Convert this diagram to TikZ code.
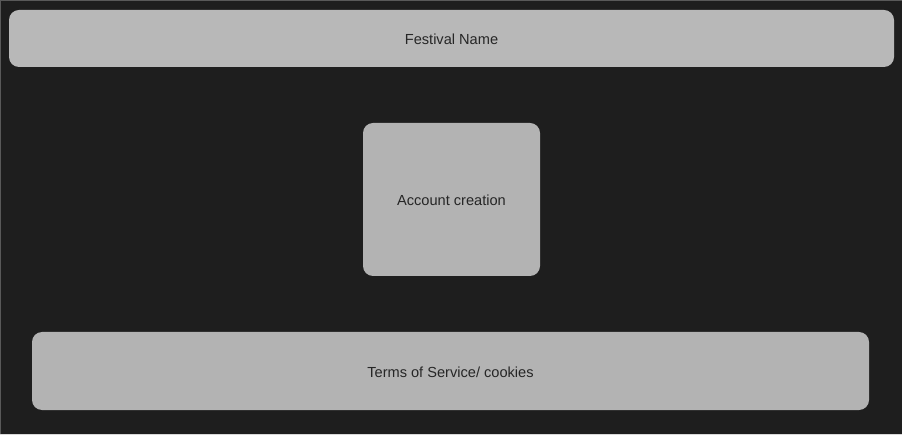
\documentclass[tikz,border=0pt]{standalone}
\usepackage{fontspec}
\setmainfont{Liberation Sans}
\definecolor{bg}{HTML}{1E1E1E}
\definecolor{boxa}{HTML}{B8B8B8}
\definecolor{boxb}{HTML}{B3B3B3}
\definecolor{txt}{HTML}{262626}
\tikzset{
  card/.style={fill=#1, draw=none, rounded corners=10pt},
  lbl/.style={text=txt, font=\fontsize{14.6}{17}\selectfont, inner sep=0pt}
}
\begin{document}
\begin{tikzpicture}[x=1pt,y=-1pt]
\useasboundingbox (0,0) rectangle (902,435);
\fill[bg] (0,0) rectangle (902,435);
\draw[color=black!65!white, line width=1pt] (0,0.5) -- (902,0.5);
\draw[color=black!65!white, line width=1pt] (0.5,0) -- (0.5,435);
\draw[color=black!15!white, line width=1pt] (0,434.5) -- (902,434.5);
\path[card=boxa] (9,10) rectangle (894,67);
\path[card=boxb] (363,123) rectangle (540,276);
\path[card=boxb] (32,332) rectangle (869,410);
\node[lbl] (festival) at (451.5,39) {Festival Name};
\node[lbl] (account) at (451.5,200) {Account creation};
\node[lbl] (terms) at (450.5,372) {Terms of Service/ cookies};
\end{tikzpicture}
\end{document}
